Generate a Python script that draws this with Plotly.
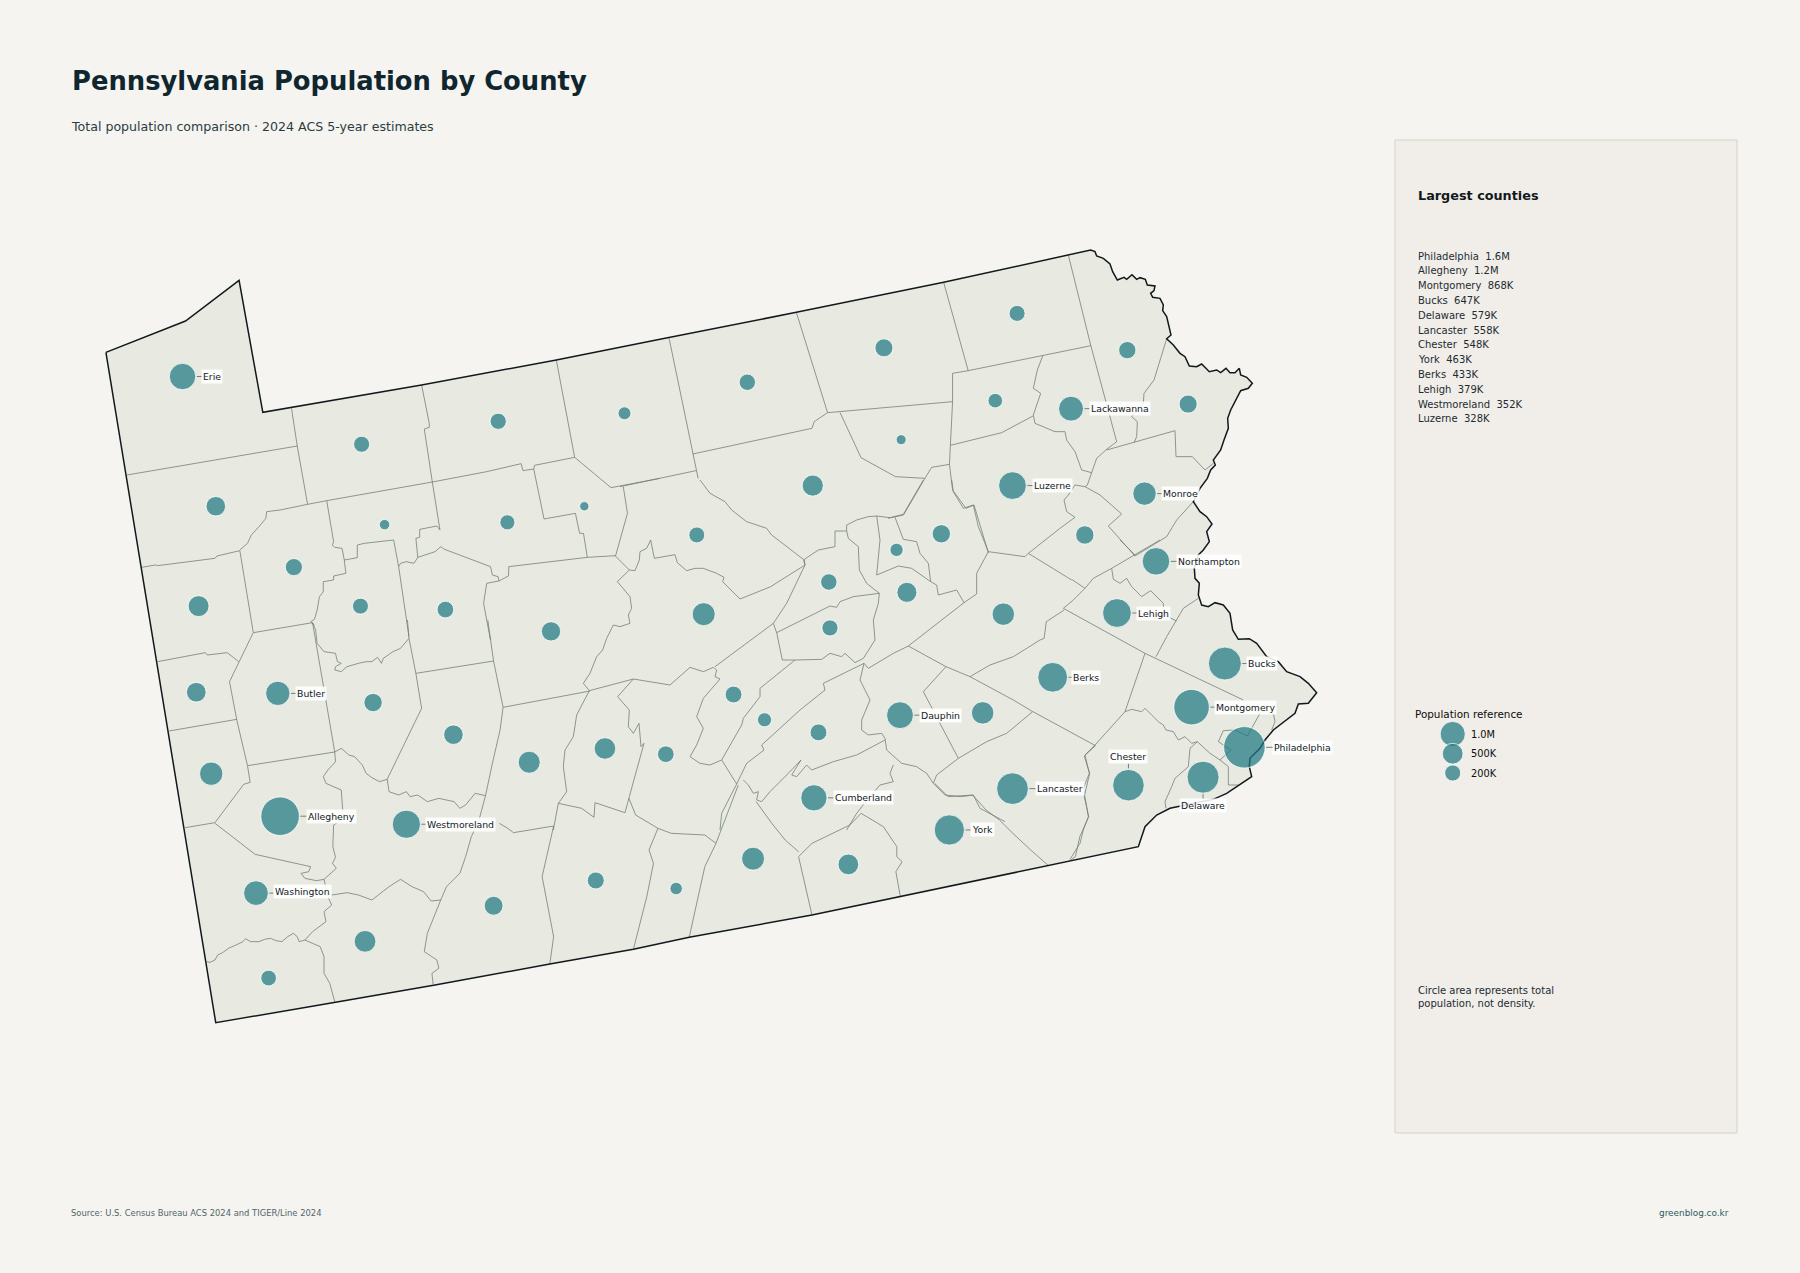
import numpy as np
import plotly.graph_objects as go

WIDTH, HEIGHT = 1800, 1273
BG = "#f5f4f0"
MAP_FILL = "#e8eae2"
PANEL_FILL = "#f1eee9"
BUBBLE_FILL = "rgba(30,120,129,0.72)"
INK = "#10262e"
FONT = "DejaVu Sans"
TEXT_PAD = 3  # plotly pads annotation boxes, left-anchored text starts this far in

# bubbles at 1568 px wide
VIEW_SCALE = WIDTH / 1568
BUBBLE_NAMES = [
    "Erie", "Crawford", "Mercer", "Lawrence", "Beaver", "Butler", "Allegheny", "Washington", "Greene", "Fayette",
    "Westmoreland", "Armstrong", "Indiana", "Venango", "Clarion", "Forest", "Warren", "McKean", "Potter", "Elk",
    "Cameron", "Jefferson", "Clearfield", "Centre", "Clinton", "Tioga", "Bradford", "Susquehanna", "Wayne", "Wyoming",
    "Lackawanna", "Pike", "Sullivan", "Lycoming", "Columbia", "Montour", "Luzerne", "Monroe", "Carbon", "Northampton",
    "Lehigh", "Northumberland", "Union", "Snyder", "Schuylkill", "Mifflin", "Juniata", "Huntingdon", "Blair", "Cambria",
    "Somerset", "Bedford", "Fulton", "Franklin", "Adams", "Perry", "Cumberland", "Dauphin", "Lebanon", "York",
    "Lancaster", "Berks", "Chester", "Montgomery", "Bucks", "Delaware", "Philadelphia",
]
BUBBLE_POP = [
    270000, 83000, 109000, 85000, 167000, 195000, 1200000, 209000, 35000, 125000,
    352000, 65000, 83000, 50000, 38000, 7000, 38000, 40000, 16000, 30000,
    4500, 44000, 79000, 158000, 37000, 41000, 60000, 38000, 51000, 26000,
    215000, 61000, 6000, 113000, 65000, 18000, 328000, 168000, 65000, 318000,
    379000, 91000, 42000, 39000, 143000, 46000, 23000, 44000, 121000, 132000,
    72000, 47000, 14000, 155000, 104000, 46000, 265000, 288000, 144000, 463000,
    558000, 433000, 548000, 868000, 647000, 579000, 1600000,
]
BUBBLE_X = [
    159, 188, 173, 171, 184, 242, 244, 223, 234, 318,
    354, 325, 395, 256, 314, 335, 315, 434, 544, 442,
    509, 388, 480, 613, 607, 651, 770, 886, 982, 867,
    933, 1035, 785, 708, 820, 781, 882, 997, 945, 1007,
    973, 790, 722, 723, 874, 639, 666, 580, 527, 461,
    430, 519, 589, 656, 739, 713, 709, 784, 856, 827,
    882, 917, 983, 1038, 1067, 1048, 1084,
]
BUBBLE_Y = [
    328, 441, 528, 603, 674, 604, 711, 778, 852, 820,
    718, 612, 640, 494, 528, 457, 387, 367, 360, 455,
    441, 531, 550, 535, 466, 333, 303, 273, 305, 349,
    356, 352, 383, 423, 465, 479, 423, 430, 466, 489,
    534, 516, 507, 547, 535, 605, 627, 657, 652, 664,
    789, 767, 774, 748, 753, 638, 695, 623, 621, 723,
    687, 590, 684, 616, 578, 677, 651,
]

LABEL_NAMES = [
    "Erie", "Allegheny", "Westmoreland", "Washington", "Butler", "Lackawanna", "Luzerne", "Monroe", "Northampton",
    "Lehigh", "Bucks", "Berks", "Montgomery", "Philadelphia", "Dauphin", "Lancaster", "York", "Cumberland",
    "Chester", "Delaware",
]
LABEL_X = [178, 269, 373, 240, 260, 951, 902, 1014, 1027, 992, 1088, 936, 1060, 1111, 803, 904, 848, 728, 983, 1048]
LABEL_Y = [328, 711, 718, 777, 604, 356, 423, 430, 489, 534, 578, 590, 616, 651, 623, 687, 723, 695, 659, 702]

LARGEST_NAMES = ["Philadelphia", "Allegheny", "Montgomery", "Bucks", "Delaware", "Lancaster", "Chester", "York",
                 "Berks", "Lehigh", "Westmoreland", "Luzerne"]
LARGEST_VALUES = ["1.6M", "1.2M", "868K", "647K", "579K", "558K", "548K", "463K", "433K", "379K", "352K", "328K"]

LEGEND_POP = [1000000, 500000, 200000]
LEGEND_TEXT = ["1.0M", "500K", "200K"]

CROPS = {
    "nw": (60, 220, 1568 / 600, 3),
    "sw": (60, 620, 1568 / 600, 3),
    "ne": (620, 230, 1568 / 700, 3),
    "se": (620, 600, 1568 / 700, 3),
    "east": (1060, 540, 3, 3),
    "mid": (540, 480, 3, 3),
    "top": (1000, 240, 3, 3),
}

STATE_OUTLINE = [
    ("nw", [(120, 397), (328, 303), (468, 181), (530, 577), (945, 495), (1297, 420), (1568, 358)]),
    ("ne", [(395, 247), (725, 157), (1052, 60)]),
    ("top", [(272, 30), (285, 35), (290, 48), (310, 55), (330, 72), (338, 95), (345, 108), (352, 120), (372, 112),
             (380, 118), (396, 104), (410, 118), (420, 113), (436, 118), (442, 135), (465, 138), (462, 152), (452, 160),
             (458, 172), (480, 175), (490, 195), (488, 212), (500, 230), (506, 260), (513, 285), (500, 296), (520, 315),
             (540, 340), (555, 350), (568, 378), (590, 380), (605, 372), (628, 395), (650, 390), (662, 398), (678, 385),
             (690, 398), (705, 398), (718, 385), (722, 405), (740, 412), (757, 430), (745, 445), (722, 452), (708, 480),
             (692, 510), (683, 535), (685, 565), (672, 600), (662, 630), (640, 660), (646, 675), (632, 690), (622, 715),
             (600, 745), (580, 785), (600, 815), (620, 830), (636, 852), (620, 875), (628, 905), (610, 930)]),
    ("east", [(415, 45), (403, 85), (405, 115), (418, 130), (415, 165), (425, 195), (445, 200), (465, 188), (490, 195),
              (510, 220), (518, 270), (535, 298), (568, 296), (590, 310), (620, 350), (655, 365), (680, 395), (720, 410),
              (745, 430), (770, 458), (745, 490), (715, 492), (705, 520), (680, 540), (640, 570), (615, 600), (600, 625),
              (570, 655), (568, 680), (575, 710), (545, 730), (500, 760), (460, 778), (360, 800), (330, 805), (290, 825),
              (255, 860), (235, 920)]),
    ("se", [(960, 797), (628, 890), (430, 945), (155, 1012), (30, 1048)]),
    ("sw", [(1280, 1032), (980, 1095), (720, 1147), (407, 1208)]),
    ("nw", [(120, 397)]),
]

COUNTY_LINES = [
    ("nw", [(175, 765), (330, 735), (620, 678)]),
    ("nw", [(605, 565), (620, 678), (647, 853)]),
    ("nw", [(647, 853), (575, 870), (540, 875), (538, 895), (520, 920), (500, 945), (490, 970), (470, 990)]),
    ("nw", [(213, 1042), (250, 1035), (255, 1037), (405, 1015), (410, 1008), (470, 992), (505, 1237)]),
    ("nw", [(647, 853), (697, 842), (973, 786), (1035, 772), (1115, 755), (1205, 731), (1210, 752), (1238, 747),
            (1240, 736), (1345, 712)]),
    ("nw", [(945, 495), (965, 610), (965, 622), (952, 627), (973, 786), (993, 930), (985, 918), (940, 928), (940, 952),
            (930, 955), (935, 1012), (925, 1030), (905, 1025), (890, 1030), (885, 1040)]),
    ("nw", [(935, 1012), (965, 1000), (980, 995), (995, 980), (1003, 987), (1125, 1040), (1130, 1065), (1145, 1070),
            (1147, 1083), (1172, 1068), (1173, 1040), (1378, 1012), (1452, 1007)]),
    ("nw", [(697, 842), (715, 965), (712, 975), (718, 982), (737, 985), (743, 1020), (777, 1013), (777, 975), (795, 970),
            (872, 960), (885, 1040), (912, 1250)]),
    ("nw", [(743, 1020), (747, 1060), (715, 1068), (715, 1080), (688, 1085), (688, 1115), (678, 1130), (672, 1170),
            (665, 1198), (655, 1205), (665, 1215)]),
    ("nw", [(1147, 1083), (1115, 1090), (1107, 1150), (1125, 1260)]),
    ("nw", [(1297, 420), (1345, 712), (1440, 803), (1568, 775)]),
    ("nw", [(1238, 747), (1265, 897), (1347, 880), (1358, 940), (1368, 940), (1378, 1012)]),
    ("nw", [(1452, 1007), (1483, 880), (1472, 800)]),
    ("sw", [(505, 38), (655, 10), (660, 8), (668, 30), (672, 70), (690, 95), (720, 100), (725, 125), (735, 130), (720, 140),
            (718, 150), (735, 155), (750, 140), (780, 130), (800, 125), (815, 125), (830, 112), (840, 130), (845, 115),
            (870, 95), (890, 85), (912, 55)]),
    ("sw", [(255, 125), (380, 98), (385, 105), (437, 98), (467, 125)]),
    ("sw", [(505, 38), (443, 185), (462, 300), (490, 437), (718, 396), (660, 8)]),
    ("sw", [(285, 333), (462, 298)]),
    ("sw", [(490, 437), (497, 487), (480, 493), (405, 608), (327, 623)]),
    ("sw", [(405, 610), (510, 703), (655, 740), (650, 755), (630, 760), (640, 775), (670, 782), (690, 778), (722, 745),
            (712, 730), (720, 712), (713, 680), (715, 615), (722, 610), (740, 590), (735, 510), (695, 490), (688, 470),
            (700, 450), (720, 425), (718, 396), (735, 385), (755, 405), (770, 410), (790, 435), (800, 460), (815, 473),
            (835, 485), (855, 478)]),
    ("sw", [(908, 0), (912, 55), (930, 160), (945, 265), (855, 478)]),
    ("sw", [(930, 160), (1133, 123)]),
    ("sw", [(1118, 0), (1133, 123), (1158, 262), (1385, 213)]),
    ("sw", [(855, 478), (860, 515), (885, 525), (905, 515), (915, 530), (935, 525), (960, 545), (990, 535), (1030, 545),
            (1045, 565), (1060, 555), (1085, 520), (1112, 527)]),
    ("sw", [(1158, 262), (1150, 330), (1130, 430), (1112, 527), (1095, 600), (1075, 650), (1060, 710), (1045, 760),
            (1010, 800), (995, 840), (960, 940), (952, 995), (985, 1020), (990, 1045), (972, 1060), (975, 1092)]),
    ("sw", [(690, 778), (700, 830), (710, 855), (690, 875), (695, 905), (660, 935), (640, 960), (680, 980), (690, 1010),
            (690, 1060), (705, 1090), (718, 1145)]),
    ("sw", [(710, 825), (750, 818), (780, 825), (815, 840), (860, 800), (890, 778), (920, 800), (950, 815), (970, 843),
            (995, 840)]),
    ("sw", [(383, 1025), (392, 1027), (405, 1020), (412, 1005), (425, 998), (440, 985), (460, 975), (478, 965), (485, 956),
            (498, 965), (520, 965), (535, 958), (550, 955), (565, 962), (580, 965), (595, 950), (610, 940), (620, 950),
            (625, 965), (640, 960)]),
    ("sw", [(1148, 610), (1170, 625), (1185, 638), (1290, 618), (1260, 770), (1290, 950), (1280, 1032)]),
    ("mid", [(225, 227), (268, 270), (285, 272), (298, 240), (300, 215), (320, 205), (332, 180),
             (343, 235), (405, 224), (412, 248), (440, 272), (465, 265), (490, 265), (530, 280), (552, 292), (548, 305),
             (600, 357), (692, 320), (795, 255)]),
    ("mid", [(268, 270), (232, 305), (270, 350), (275, 385), (265, 405), (270, 430), (240, 440), (220, 435), (200, 475),
             (188, 510), (170, 530), (150, 580), (130, 610), (148, 632)]),
    ("mid", [(148, 632), (280, 597), (390, 615), (450, 562), (490, 575), (520, 562), (530, 570), (525, 590),
             (540, 597), (490, 655), (470, 710), (490, 745), (470, 795), (450, 830), (480, 850), (510, 855), (545, 840)]),
    ("mid", [(148, 632), (110, 705), (100, 770), (75, 810), (70, 860), (80, 935), (55, 970), (40, 1050)]),
    ("mid", [(280, 597), (233, 650), (268, 690), (265, 740), (280, 760), (297, 730), (303, 800), (312, 790), (268, 950),
             (255, 998), (165, 968), (162, 1012), (125, 985), (55, 970)]),
    ("mid", [(525, 560), (700, 430), (710, 458), (727, 540), (765, 540), (845, 538), (870, 520), (905, 530), (915, 520),
             (945, 548), (970, 535), (985, 510), (1005, 480), (1000, 420), (1015, 370), (1018, 340)]),
    ("mid", [(710, 458), (870, 378), (890, 382), (900, 365), (940, 350), (1018, 340)]),
    ("mid", [(480, 0), (510, 40), (555, 65), (575, 90), (620, 125), (680, 145), (695, 165), (790, 238), (795, 255),
             (793, 238), (835, 210), (885, 200), (885, 153), (920, 153), (925, 175), (955, 200), (958, 270), (980, 310),
             (1018, 340)]),
    ("mid", [(700, 430), (740, 370), (795, 255)]),
    ("mid", [(920, 153), (920, 135), (950, 120), (985, 110), (1010, 108), (1050, 113), (1090, 103), (1150, 0)]),
    ("mid", [(1010, 108), (1020, 180), (1010, 285), (1075, 258), (1115, 265), (1150, 290), (1172, 305), (1165, 250),
             (1140, 220), (1130, 185), (1090, 178), (1065, 112)]),
    ("mid", [(1172, 305), (1190, 315), (1195, 345), (1250, 330), (1272, 368), (1310, 342), (1310, 280), (1345, 215),
             (1315, 140), (1300, 75), (1270, 85), (1240, 35), (1235, 0)]),
    ("mid", [(1345, 215), (1455, 230)]),
    ("mid", [(1272, 368), (1105, 498), (1060, 520), (1010, 550), (985, 565), (972, 550), (960, 600), (965, 610), (990, 660),
             (965, 720), (965, 750), (985, 765), (1025, 760), (1035, 775), (1040, 810), (1085, 850), (1130, 860), (1160, 880),
             (1180, 910), (1215, 945), (1265, 950), (1300, 945), (1320, 985), (1395, 1025)]),
    ("mid", [(972, 550), (850, 610), (855, 630), (780, 690), (665, 795), (672, 810), (620, 850), (590, 912)]),
    ("mid", [(765, 540), (660, 625), (660, 650), (610, 715), (605, 735), (545, 840), (590, 912), (545, 1000), (540, 1050)]),
    ("mid", [(1035, 780), (950, 825), (880, 845), (815, 870), (800, 855), (770, 890), (755, 885), (783, 840), (740, 885),
             (690, 935), (665, 965), (650, 960), (655, 935), (640, 940), (625, 915), (610, 900)]),
    ("mid", [(1060, 855), (1050, 880), (1060, 905), (1020, 915), (985, 955), (950, 1000), (920, 1050)]),
    ("mid", [(1218, 560), (1150, 635), (1255, 835)]),
    ("mid", [(1478, 695), (1400, 760), (1340, 785), (1255, 835), (1190, 885), (1180, 910)]),
    ("mid", [(1105, 498), (1218, 560), (1290, 590), (1420, 660), (1478, 695)]),
    ("mid", [(1290, 590), (1350, 555), (1420, 530), (1500, 480)]),
    ("se", [(925, 335), (1065, 437), (1040, 468), (1052, 520), (1040, 590), (1050, 650), (1030, 710), (1020, 770), (1008, 782)]),
    ("se", [(941, 120), (950, 115), (955, 65), (995, 30)]),
    ("se", [(705, 550), (735, 590), (790, 585), (820, 630), (850, 660), (880, 700), (920, 750), (960, 797)]),
    ("se", [(400, 770), (430, 730), (515, 675), (540, 640), (590, 680), (620, 740), (620, 770), (632, 785), (618, 815), (628, 890)]),
    ("se", [(400, 770), (430, 945)]),
    ("se", [(305, 605), (340, 670), (370, 720), (400, 755)]),
    ("se", [(265, 555), (215, 730), (190, 800), (155, 1012)]),
    ("se", [(20, 595), (35, 645), (85, 685), (115, 700), (190, 705), (215, 730)]),
    ("se", [(85, 685), (65, 750), (75, 790), (60, 890), (30, 1048)]),
    ("ne", [(110, 325), (163, 670), (172, 722), (175, 745)]),
    ("ne", [(0, 770), (170, 722)]),
    ("ne", [(163, 672), (430, 595), (435, 575), (465, 548), (395, 247)]),
    ("ne", [(465, 548), (745, 515)]),
    ("ne", [(725, 157), (780, 422)]),
    ("ne", [(745, 515), (745, 430), (780, 422), (945, 378), (1055, 347)]),
    ("ne", [(493, 548), (540, 683), (617, 740), (683, 745), (698, 712), (738, 703), (740, 646), (745, 515)]),
    ("ne", [(683, 745), (635, 855), (600, 865)]),
    ("ne", [(738, 703), (745, 780), (775, 835), (793, 825), (825, 968)]),
    ("ne", [(740, 646), (855, 608), (925, 558)]),
    ("top", [(205, 45), (272, 315), (350, 605), (320, 628), (290, 655), (275, 698), (262, 735), (255, 740), (300, 765),
             (365, 822), (325, 858), (405, 948), (450, 920), (500, 890), (530, 840), (580, 785)]),
    ("top", [(128, 348), (112, 390), (100, 445), (122, 460), (100, 525), (105, 550), (165, 575), (195, 575), (200, 600),
             (225, 635), (245, 690), (275, 698)]),
    ("top", [(500, 296), (462, 420), (432, 460), (430, 490), (395, 530), (412, 545), (410, 590), (402, 608)]),
    ("top", [(320, 630), (525, 572), (528, 650), (577, 650), (615, 690), (640, 670)]),
    ("top", [(255, 740), (225, 735), (205, 765), (192, 780), (200, 815), (225, 832), (180, 865), (85, 940)]),
    ("top", [(75, 950), (85, 940), (215, 1020)]),
    ("east", [(10, 205), (40, 180), (75, 145), (100, 115), (155, 85), (225, 45), (300, 0)]),
    ("east", [(35, 118), (75, 145)]),
    ("east", [(180, 0), (225, 45)]),
    ("east", [(155, 85), (160, 118), (180, 130), (200, 115), (215, 140), (245, 170), (272, 152), (310, 190), (312, 225),
              (350, 243)]),
    ("east", [(415, 175), (370, 205), (320, 290), (288, 350)]),
    ("east", [(10, 205), (255, 340), (550, 480)]),
    ("east", [(255, 340), (195, 515), (105, 615), (75, 645), (88, 700), (70, 745), (80, 800), (85, 830), (70, 870), (60, 910),
              (30, 958)]),
    ("east", [(195, 515), (215, 508), (245, 515), (255, 505), (275, 525), (295, 545), (310, 555), (318, 570), (340, 575),
              (355, 600), (375, 590), (395, 610), (412, 605), (450, 640), (480, 660), (505, 680), (505, 735), (535, 735)]),
    ("east", [(412, 605), (390, 625), (385, 680), (345, 715), (335, 740), (315, 785), (318, 805)]),
    ("east", [(600, 520), (575, 565), (562, 588), (525, 570), (490, 572), (475, 605), (513, 630), (480, 660)]),
    ("east", [(640, 520), (645, 545), (635, 570)]),
]


def traced(crop, pts):
    left, top, sx, sy = CROPS[crop]
    return [left + p[0] / sx for p in pts], [top + p[1] / sy for p in pts]


def bubble_diameter(pop, k=1.086, power=0.255):
    return k * np.asarray(pop, dtype=float) ** power


outline_x, outline_y = [], []
for crop, pts in STATE_OUTLINE:
    xs, ys = traced(crop, pts)
    outline_x += xs
    outline_y += ys

county_x, county_y = [], []
for crop, pts in COUNTY_LINES:
    xs, ys = traced(crop, pts)
    county_x += xs + [None]
    county_y += ys + [None]

bubble_px = np.array(BUBBLE_X) * VIEW_SCALE
bubble_py = np.array(BUBBLE_Y) * VIEW_SCALE
diam = bubble_diameter(BUBBLE_POP)

fig = go.Figure()
fig.add_trace(go.Scatter(x=outline_x, y=outline_y, mode="lines", fill="toself", fillcolor=MAP_FILL,
                         line=dict(width=0, color=MAP_FILL), hoverinfo="skip"))
fig.add_trace(go.Scatter(x=county_x, y=county_y, mode="lines", line=dict(color="#747f7a", width=0.8), hoverinfo="skip"))
fig.add_trace(go.Scatter(x=outline_x, y=outline_y, mode="lines", line=dict(color="#12191c", width=1.5), hoverinfo="skip"))

# leaders run from the bubble edge to the label
leader_x, leader_y = [], []
for name, lx, ly in zip(LABEL_NAMES, LABEL_X, LABEL_Y):
    i = BUBBLE_NAMES.index(name)
    r = diam[i] / 2
    cx, cy = bubble_px[i], bubble_py[i]
    if name in ("Chester", "Delaware"):
        sign = 1 if ly > BUBBLE_Y[i] else -1
        leader_x += [cx, cx, None]
        leader_y += [cy + sign * (r + 1), ly * VIEW_SCALE - sign * 7, None]
    else:
        leader_x += [cx + r + 1, lx * VIEW_SCALE - 2, None]
        leader_y += [cy, cy, None]
fig.add_trace(go.Scatter(x=leader_x, y=leader_y, mode="lines", line=dict(color="#6f7f7f", width=1), hoverinfo="skip"))

fig.add_trace(go.Scatter(
    x=bubble_px, y=bubble_py, mode="markers", text=BUBBLE_NAMES, customdata=BUBBLE_POP,
    marker=dict(size=diam, color=BUBBLE_FILL, opacity=1, line=dict(color="rgba(255,255,255,0.75)", width=1)),
    hovertemplate="%{text}: %{customdata:,}<extra></extra>",
))

for name, lx, ly in zip(LABEL_NAMES, LABEL_X, LABEL_Y):
    centred = name in ("Chester", "Delaware")
    fig.add_annotation(x=lx * VIEW_SCALE - (0 if centred else TEXT_PAD), y=ly * VIEW_SCALE, text=name, showarrow=False,
                       xanchor="center" if centred else "left", yanchor="middle",
                       font=dict(family=FONT, size=9.3, color="#111a1e"),
                       bgcolor="rgba(255,255,255,0.88)", borderpad=1)

# side panel
fig.add_shape(type="rect", x0=1395, x1=1737, y0=140, y1=1133, fillcolor=PANEL_FILL,
              line=dict(color="#d3d3c8", width=1), layer="below")
fig.add_annotation(x=1419 - TEXT_PAD, y=195, text="<b>Largest counties</b>", showarrow=False, xanchor="left", yanchor="middle",
                   font=dict(family=FONT, size=12.8, color="#11191d"))
for i, (name, val) in enumerate(zip(LARGEST_NAMES, LARGEST_VALUES)):
    fig.add_annotation(x=1419 - TEXT_PAD, y=256 + 14.8 * i, text=f"{name}  {val}", showarrow=False, xanchor="left", yanchor="middle",
                       font=dict(family=FONT, size=10, color="#1c2c32"))

fig.add_annotation(x=1416 - TEXT_PAD, y=714, text="Population reference", showarrow=False, xanchor="left", yanchor="middle",
                   font=dict(family=FONT, size=10.4, color="#0c0c0c"))
legend_y = [734, 753.7, 773]
fig.add_trace(go.Scatter(
    x=[1452.7] * 3, y=legend_y, mode="markers", hoverinfo="skip",
    marker=dict(size=bubble_diameter(LEGEND_POP, k=0.546, power=0.277), color=BUBBLE_FILL, opacity=1,
                line=dict(color="rgba(255,255,255,0.75)", width=1)),
))
for txt, y in zip(LEGEND_TEXT, legend_y):
    fig.add_annotation(x=1472 - TEXT_PAD, y=y, text=txt, showarrow=False, xanchor="left", yanchor="middle",
                       font=dict(family=FONT, size=9.8, color="#0c0c0c"))
fig.add_annotation(x=1419 - TEXT_PAD, y=990, text="Circle area represents total", showarrow=False, xanchor="left", yanchor="middle",
                   font=dict(family=FONT, size=10, color="#1c2c32"))
fig.add_annotation(x=1419 - TEXT_PAD, y=1003, text="population, not density.", showarrow=False, xanchor="left", yanchor="middle",
                   font=dict(family=FONT, size=10, color="#1c2c32"))

fig.add_annotation(x=72 - TEXT_PAD, y=126.5, text="Total population comparison · 2024 ACS 5-year estimates", showarrow=False,
                   xanchor="left", yanchor="middle", font=dict(family=FONT, size=12.6, color="#2c3c42"))
fig.add_annotation(x=72 - TEXT_PAD, y=1213, text="Source: U.S. Census Bureau ACS 2024 and TIGER/Line 2024", showarrow=False,
                   xanchor="left", yanchor="middle", font=dict(family=FONT, size=8.4, color="#52646a"))
fig.add_annotation(x=1728 + TEXT_PAD, y=1213, text="greenblog.co.kr", showarrow=False, xanchor="right", yanchor="middle",
                   font=dict(family=FONT, size=8.9, color="#2b5a60"))

fig.update_layout(
    width=WIDTH, height=HEIGHT, margin=dict(l=0, r=0, t=0, b=0),
    paper_bgcolor=BG, plot_bgcolor=BG, showlegend=False,
    title=dict(text="<b>Pennsylvania Population by County</b>", x=72 / WIDTH, xanchor="left",
               y=1 - 81 / HEIGHT, yanchor="middle", font=dict(family=FONT, size=25.8, color=INK)),
    xaxis=dict(range=[0, WIDTH], visible=False, fixedrange=True),
    yaxis=dict(range=[HEIGHT, 0], visible=False, fixedrange=True),
)

fig.write_html("out.html", config={"displayModeBar": False},
               post_script="document.body.style.margin='0';document.body.style.background='" + BG + "';")
